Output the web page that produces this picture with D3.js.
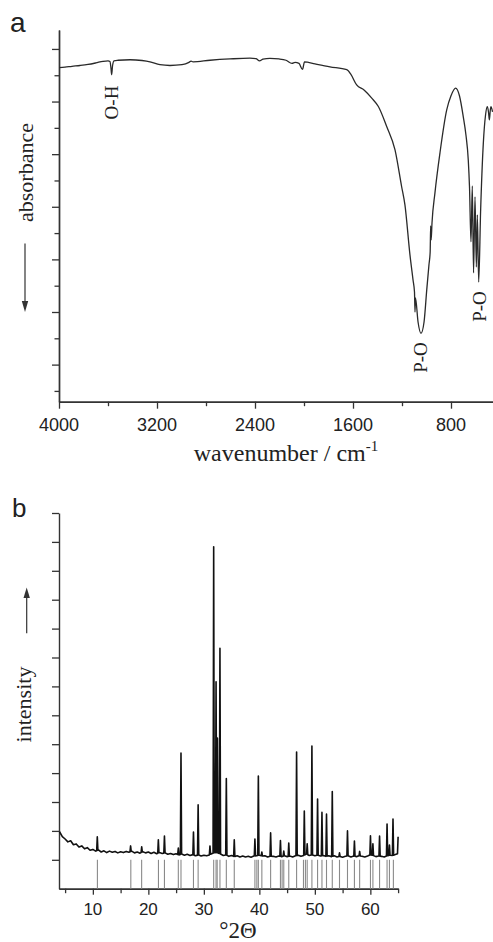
<!DOCTYPE html>
<html><head><meta charset="utf-8">
<script src="https://cdn.jsdelivr.net/npm/d3@7"></script>
<style>body{margin:0;background:#fff}svg{display:block}</style>
</head><body><svg id="c" width="493" height="942"></svg>
<script>
// ---------- Panel a: IR spectrum ----------
const irWavenumber = [4000,3951,3894,3829,3763,3698,3641,3600,3584,3576,3570,3563,3551,3518,3420,3322,3257,3176,3094,2996,2939,2922,2906,2767,2604,2441,2392,2363,2335,2278,2204,2147,2098,2073,2041,2012,1996,1910,1788,1651,1616,1570,1510,1447,1393,1325,1257,1204,1176,1135,1110,1098,1094,1090,1069,1045,1020,998,980,970,966,962,955,931,890,835,800,762,731,700,678,659,649,637,626,616,604,593,585,574,558,536,518,504,494,487,479,474,461];
const irSignal = [12.29,12.31,12.34,12.37,12.41,12.47,12.53,12.55,12.52,12.28,12.02,12.36,12.55,12.57,12.59,12.56,12.51,12.40,12.37,12.40,12.49,12.54,12.51,12.57,12.62,12.65,12.63,12.55,12.61,12.64,12.62,12.57,12.45,12.49,12.45,12.22,12.51,12.43,12.32,12.21,12.02,11.63,11.44,11.13,10.81,10.05,9.16,7.79,7.07,5.17,4.22,3.76,3.00,3.54,2.62,2.19,2.62,3.84,4.79,5.29,6.27,5.74,6.39,7.53,9.05,10.68,11.22,11.51,11.22,10.43,9.73,8.78,7.76,5.67,7.79,4.49,7.38,4.71,6.69,4.14,6.88,9.43,10.49,10.81,10.61,10.30,10.68,10.81,10.61];
const irXMajor = [4000,3200,2400,1600,800];
const irXMinor = [3600,2800,2000,1200];
const irYMajor = [1,3,5,7,9,11,13];
const irYMinor = [0,2,4,6,8,10,12];
const irBands = [{label:"O-H", w:3570, v:12.02}, {label:"P-O", w:1045, v:2.19}, {label:"P-O", w:574, v:4.14}];

// ---------- Panel b: XRD pattern ----------
const xrdBaseline = [1.97,1.80,1.72,1.62,1.66,1.52,1.55,1.44,1.48,1.38,1.42,1.33,1.36,1.30,1.34,1.27,1.31,1.25,1.30,1.26,1.29,1.24,1.28,1.25,1.29,1.26,1.30,1.24,1.27,1.23,1.28,1.24,1.27,1.22,1.26,1.21,1.25,1.22,1.24,1.19,1.22,1.18,1.21,1.17,1.20,1.16,1.19,1.15,1.18,1.14,1.17,1.13,1.16,1.14,1.17,1.22,1.25,1.24,1.20,1.15,1.17,1.12,1.15,1.11,1.14,1.10,1.13,1.10,1.12,1.09,1.13,1.14,1.16,1.13,1.14,1.10,1.13,1.12,1.10,1.13,1.11,1.14,1.11,1.13,1.10,1.14,1.16,1.12,1.15,1.20,1.15,1.17,1.14,1.16,1.13,1.15,1.12,1.14,1.11,1.14,1.10,1.12,1.09,1.12,1.14,1.10,1.13,1.11,1.14,1.12,1.10,1.13,1.17,1.15,1.11,1.13,1.12,1.10,1.14,1.16,1.15,1.18,1.22];
const xrdBaseStart = 4, xrdBaseStep = 0.5;
const xrdPeakAngle = [10.8,16.8,18.8,21.8,22.9,25.4,25.88,28.13,28.97,31.1,31.77,32.2,32.45,32.9,34.05,35.48,39.2,39.82,40.45,42.03,43.8,44.4,45.3,46.71,48.1,48.62,49.47,50.49,51.28,52.1,53.14,54.44,55.88,57.13,58.07,60.02,60.46,61.66,63.01,63.44,64.08,65.0];
const xrdPeakIntensity = [1.80,1.48,1.45,1.69,1.82,1.41,4.69,1.96,2.90,1.48,11.83,7.16,5.21,8.32,3.81,1.69,1.72,3.90,1.27,1.93,1.67,1.30,1.58,4.73,2.69,1.55,4.94,3.10,2.64,2.58,3.36,1.24,2.00,1.65,1.29,1.83,1.55,1.82,2.24,1.51,2.41,1.80];
const xrdRefAngle = [10.82,16.84,18.79,21.82,22.9,25.4,25.88,28.13,28.97,31.77,32.2,32.4,32.9,34.05,35.48,39.2,39.55,39.82,40.45,42.03,43.8,44.1,44.4,45.3,46.71,47.95,48.3,48.62,49.47,50.49,51.28,52.1,53.14,54.44,55.88,57.13,58.07,60.02,60.46,61.66,63.01,63.44,64.15];
const xrdXMajor = [10,20,30,40,50,60];
const xrdXMinor = [5,15,25,35,45,55,65];
const xrdYTicks = [1,2,3,4,5,6,7,8,9,10,11,12,13];

const svg = d3.select("#c");
const axisColor = "#333";
const sans = "'Liberation Sans', Arial, sans-serif";
const serif = "'Liberation Serif', 'Times New Roman', serif";

function styleAxis(g){
  g.select(".domain").attr("stroke", axisColor).attr("stroke-width", 1.4);
  g.selectAll(".tick line").attr("stroke", axisColor).attr("stroke-width", 1.3);
  g.selectAll(".tick text").remove();
}

// ===== Panel a =====
const irX = d3.scaleLinear().domain([4000, 460]).range([59, 492.65]);
const irY = d3.scaleLinear().domain([-0.41, 13.72]).range([401.7, 30]);

svg.append("g").attr("transform","translate(59,0)")
  .call(d3.axisLeft(irY).tickValues(irYMajor).tickSize(7).tickSizeOuter(0)).call(styleAxis);
svg.append("g").attr("transform","translate(59,0)")
  .call(d3.axisLeft(irY).tickValues(irYMinor).tickSize(4.5).tickSizeOuter(0)).call(styleAxis);
svg.append("g").attr("transform","translate(0,401.7)")
  .call(d3.axisBottom(irX).tickValues(irXMajor).tickSize(7).tickSizeOuter(0)).call(styleAxis);
svg.append("g").attr("transform","translate(0,401.7)")
  .call(d3.axisBottom(irX).tickValues(irXMinor).tickSize(4.5).tickSizeOuter(0)).call(styleAxis);

svg.append("g").selectAll("text").data(irXMajor).join("text")
  .attr("x", d => irX(d)).attr("y", 430.7).attr("text-anchor","middle")
  .attr("font-family", sans).attr("font-size", 18).attr("fill","#222").text(d => d);

const irData = irWavenumber.map((w,i) => [w, irSignal[i]]);
svg.append("path").datum(irData)
  .attr("d", d3.line().x(d => irX(d[0])).y(d => irY(d[1])).curve(d3.curveMonotoneX))
  .attr("fill","none").attr("stroke","#2a2a2a").attr("stroke-width",1.3).attr("stroke-linejoin","round");

// band labels
const bandOffsets = [{bx:118, cy:102.5}, {bx:427, cy:357.5}, {bx:486, cy:306.5}];
irBands.forEach((b,i) => {
  svg.append("text")
    .attr("transform", `translate(${bandOffsets[i].bx},${bandOffsets[i].cy}) rotate(-90)`)
    .attr("text-anchor","middle").attr("font-family", serif).attr("font-size", 19).attr("fill","#222")
    .text(b.label);
});

svg.append("text").attr("x", 10).attr("y", 31.5).attr("font-family", sans).attr("font-size", 28).attr("fill","#222").text("a");

svg.append("text").attr("transform","translate(32.5,172.5) rotate(-90)").attr("text-anchor","middle")
  .attr("font-family", serif).attr("font-size", 22).attr("fill","#222").text("absorbance");

// arrow down
svg.append("line").attr("x1",25).attr("x2",25).attr("y1",243.5).attr("y2",303).attr("stroke",axisColor).attr("stroke-width",1.2);
svg.append("path").attr("d","M21.8,301 L28.2,301 L25,312 Z").attr("fill",axisColor);

const xt = svg.append("text").attr("x", 286).attr("y", 461).attr("text-anchor","middle")
  .attr("font-family", serif).attr("font-size", 24).attr("fill","#222");
xt.append("tspan").text("wavenumber / cm");
xt.append("tspan").attr("dy",-10).attr("font-size",15).text("-1");

// ===== Panel b =====
const xrdX = d3.scaleLinear().domain([3.9, 65]).range([59, 398.1]);
const xrdY = d3.scaleLinear().domain([0, 13]).range([888.7, 513]);

svg.append("g").attr("transform","translate(59,0)")
  .call(d3.axisLeft(xrdY).tickValues(xrdYTicks).tickSize(7).tickSizeOuter(0)).call(styleAxis);
svg.append("g").attr("transform","translate(0,888.7)")
  .call(d3.axisBottom(xrdX).tickValues(xrdXMajor).tickSize(6).tickSizeOuter(0)).call(styleAxis);
svg.append("g").attr("transform","translate(0,888.7)")
  .call(d3.axisBottom(xrdX).tickValues(xrdXMinor).tickSize(4.5).tickSizeOuter(0)).call(styleAxis);

svg.append("g").selectAll("text").data(xrdXMajor).join("text")
  .attr("x", d => xrdX(d)).attr("y", 915).attr("text-anchor","middle")
  .attr("font-family", sans).attr("font-size", 17).attr("fill","#222").text(d => d);

// reference sticks
svg.append("g").selectAll("line").data(xrdRefAngle).join("line")
  .attr("x1", d => xrdX(d)).attr("x2", d => xrdX(d))
  .attr("y1", xrdY(1)).attr("y2", xrdY(0))
  .attr("stroke","#8a8a8a").attr("stroke-width",1.1);

// build profile: baseline grid + peak triangles
const baseAngles = xrdBaseline.map((v,i) => xrdBaseStart + i*xrdBaseStep);
const baseAt = d3.scaleLinear().domain(baseAngles).range(xrdBaseline);
const hw = 0.11;
let pts = baseAngles.map((a,i) => [a, xrdBaseline[i]])
  .filter(p => !xrdPeakAngle.some(pk => Math.abs(p[0]-pk) <= hw + 0.02));
xrdPeakAngle.forEach((pk,i) => {
  pts.push([pk - hw, baseAt(pk - hw)]);
  pts.push([pk, xrdPeakIntensity[i]]);
  if (pk + hw <= 65) pts.push([pk + hw, baseAt(pk + hw)]);
});
pts.sort((a,b) => a[0]-b[0]);
svg.append("path").datum(pts)
  .attr("d", d3.line().x(d => xrdX(d[0])).y(d => xrdY(d[1])))
  .attr("fill","none").attr("stroke","#111").attr("stroke-width",1.6).attr("stroke-linejoin","round");

svg.append("text").attr("x", 12).attr("y", 517).attr("font-family", sans).attr("font-size", 26).attr("fill","#222").text("b");

svg.append("text").attr("transform","translate(31,704.5) rotate(-90)").attr("text-anchor","middle")
  .attr("font-family", serif).attr("font-size", 22).attr("fill","#222").text("intensity");

// arrow up
svg.append("line").attr("x1",26.7).attr("x2",26.7).attr("y1",633.3).attr("y2",596).attr("stroke",axisColor).attr("stroke-width",1.2);
svg.append("path").attr("d","M23.5,598 L29.9,598 L26.7,587.5 Z").attr("fill",axisColor);

svg.append("text").attr("x", 238).attr("y", 938).attr("text-anchor","middle")
  .attr("font-family", serif).attr("font-size", 23).attr("fill","#222").text("°2Θ");
</script></body></html>
